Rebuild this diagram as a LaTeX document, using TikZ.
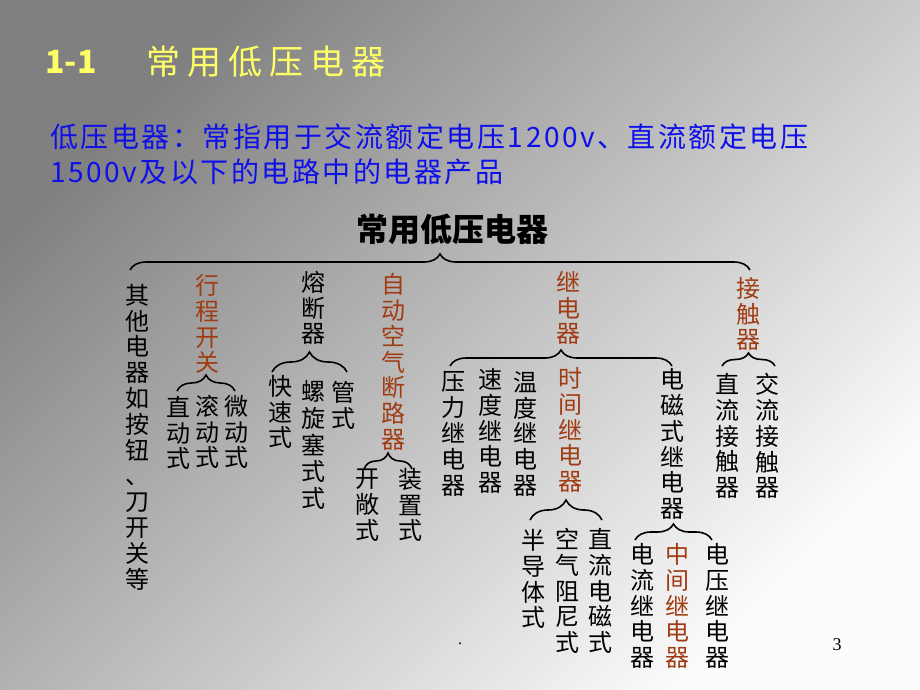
\documentclass[tikz,border=0pt]{standalone}
\usepackage{fontspec}
\setmainfont{Liberation Serif}
\newfontfamily\cjk{Noto Sans CJK SC}
\newfontfamily\cjkls[LetterSpace=9]{Noto Sans CJK SC}
\newfontfamily\cjkwide[LetterSpace=21]{Noto Sans CJK SC}
\usetikzlibrary{decorations.pathreplacing}

\definecolor{ttl}{RGB}{255,255,102}
\definecolor{brn}{RGB}{160,60,20}
\definecolor{blu}{RGB}{15,15,235}
\definecolor{bgdark}{RGB}{128,128,128}
\definecolor{bgmid}{RGB}{208,208,208}
\definecolor{bglight}{RGB}{252,252,252}

\tikzstyle{vtxt}=[inner sep=0pt,align=center,font={\cjk\fontsize{24}{25.8}\selectfont}]
\tikzstyle{hl}=[vtxt,text=brn]
\tikzstyle{brk}=[decorate,decoration={brace,amplitude=16pt},line width=1.6pt]

\begin{document}
\begin{tikzpicture}[x=1pt,y=-1pt]
    \shade[top color=bgdark,middle color=bgmid,bottom color=bglight,shading angle=45] (0,0) rectangle (920,690);
    \useasboundingbox (0,0) rectangle (920,690);

    % title
    \node (num)[inner sep=0pt,text=ttl,font={\cjk\bfseries\fontsize{32}{34}\selectfont}] at (71,62) {1-1};
    \node (title)[inner sep=0pt,text=ttl,font={\cjkwide\fontsize{34}{36}\selectfont}] at (266,62) {常用低压电器};

    % definition
    \node (def1)[inner sep=0pt,anchor=west,text=blu,font={\cjkls\fontsize{28}{30}\selectfont}] at (50,137) {低压电器：常指用于交流额定电压1200v、直流额定电压};
    \node (def2)[inner sep=0pt,anchor=west,text=blu,font={\cjkls\fontsize{28}{30}\selectfont}] at (50,172) {1500v及以下的电路中的电器产品};

    % root
    \node (root)[inner sep=0pt,font={\cjk\bfseries\fontsize{32}{34}\selectfont}] at (452,229) {常用低压电器};

    % first level
    \node (qt)[vtxt] at (137,437) {其\\他\\电\\器\\如\\按\\钮\\、\\刀\\开\\关\\等};
    \node (xc)[hl] at (207,324) {行\\程\\开\\关};
    \node (rd)[vtxt] at (313,308) {熔\\断\\器};
    \node (dl)[hl] at (393,362) {自\\动\\空\\气\\断\\路\\器};
    \node (jd)[hl] at (568,308) {继\\电\\器};
    \node (jc)[hl] at (748,314) {接\\触\\器};

    % 行程开关
    \node (xc1)[vtxt] at (178,433) {直\\动\\式};
    \node (xc2)[vtxt] at (207,432) {滚\\动\\式};
    \node (xc3)[vtxt] at (236,432) {微\\动\\式};

    % 熔断器
    \node (rd1)[vtxt] at (280,412) {快\\速\\式};
    \node (rd2)[vtxt,font={\cjk\fontsize{24}{26.8}\selectfont}] at (313,445) {螺\\旋\\塞\\式\\式};
    \node (rd3)[vtxt] at (343,405) {管\\式};

    % 断路器
    \node (dl1)[vtxt] at (367,505) {开\\敞\\式};
    \node (dl2)[vtxt] at (410,505) {装\\置\\式};

    % 继电器
    \node (jd1)[vtxt] at (453,434) {压\\力\\继\\电\\器};
    \node (jd2)[vtxt] at (490,431) {速\\度\\继\\电\\器};
    \node (jd3)[vtxt] at (525,434) {温\\度\\继\\电\\器};
    \node (jd4)[hl] at (570,430) {时\\间\\继\\电\\器};
    \node (jd5)[vtxt] at (672,444) {电\\磁\\式\\继\\电\\器};

    % 时间继电器
    \node (sj1)[vtxt] at (533,579) {半\\导\\体\\式};
    \node (sj2)[vtxt] at (567,591) {空\\气\\阻\\尼\\式};
    \node (sj3)[vtxt] at (600,591) {直\\流\\电\\磁\\式};

    % 电磁式继电器
    \node (dc1)[vtxt] at (642,606) {电\\流\\继\\电\\器};
    \node (dc2)[hl] at (677,606) {中\\间\\继\\电\\器};
    \node (dc3)[vtxt] at (717,606) {电\\压\\继\\电\\器};

    % 接触器
    \node (jc1)[vtxt] at (727,436) {直\\流\\接\\触\\器};
    \node (jc2)[vtxt] at (767,436) {交\\流\\接\\触\\器};

    % braces
    \coordinate (rootL) at (130,270);
    \coordinate (rootR) at (750,270);
    \coordinate (xcL) at (177,391);
    \coordinate (xcR) at (235,391);
    \coordinate (rdL) at (272,372);
    \coordinate (rdR) at (347,372);
    \coordinate (dlL) at (364,469);
    \coordinate (dlR) at (412,469);
    \coordinate (jdL) at (450,366);
    \coordinate (jdR) at (672,366);
    \coordinate (sjL) at (530,520);
    \coordinate (sjR) at (602,520);
    \coordinate (dcL) at (635,540);
    \coordinate (dcR) at (712,540);
    \coordinate (jcL) at (722,366);
    \coordinate (jcR) at (775,366);
    \draw[brk] (rootL) -- (rootR);
    \draw[brk] (xcL) -- (xcR);
    \draw[brk,decoration={amplitude=20pt}] (rdL) -- (rdR);
    \draw[brk] (dlL) -- (dlR);
    \draw[brk] (jdL) -- (jdR);
    \draw[brk,decoration={amplitude=20pt}] (sjL) -- (sjR);
    \draw[brk] (dcL) -- (dcR);
    \draw[brk,decoration={amplitude=13pt}] (jcL) -- (jcR);

    % marks
    \fill[gray!50] (457,339) rectangle (463,345);
    \node (dot)[inner sep=0pt,font=\fontsize{16}{18}\selectfont] at (460,644) {.};
    \node (pg)[inner sep=0pt,font=\fontsize{18}{20}\selectfont] at (837,645) {3};
\end{tikzpicture}
\end{document}
